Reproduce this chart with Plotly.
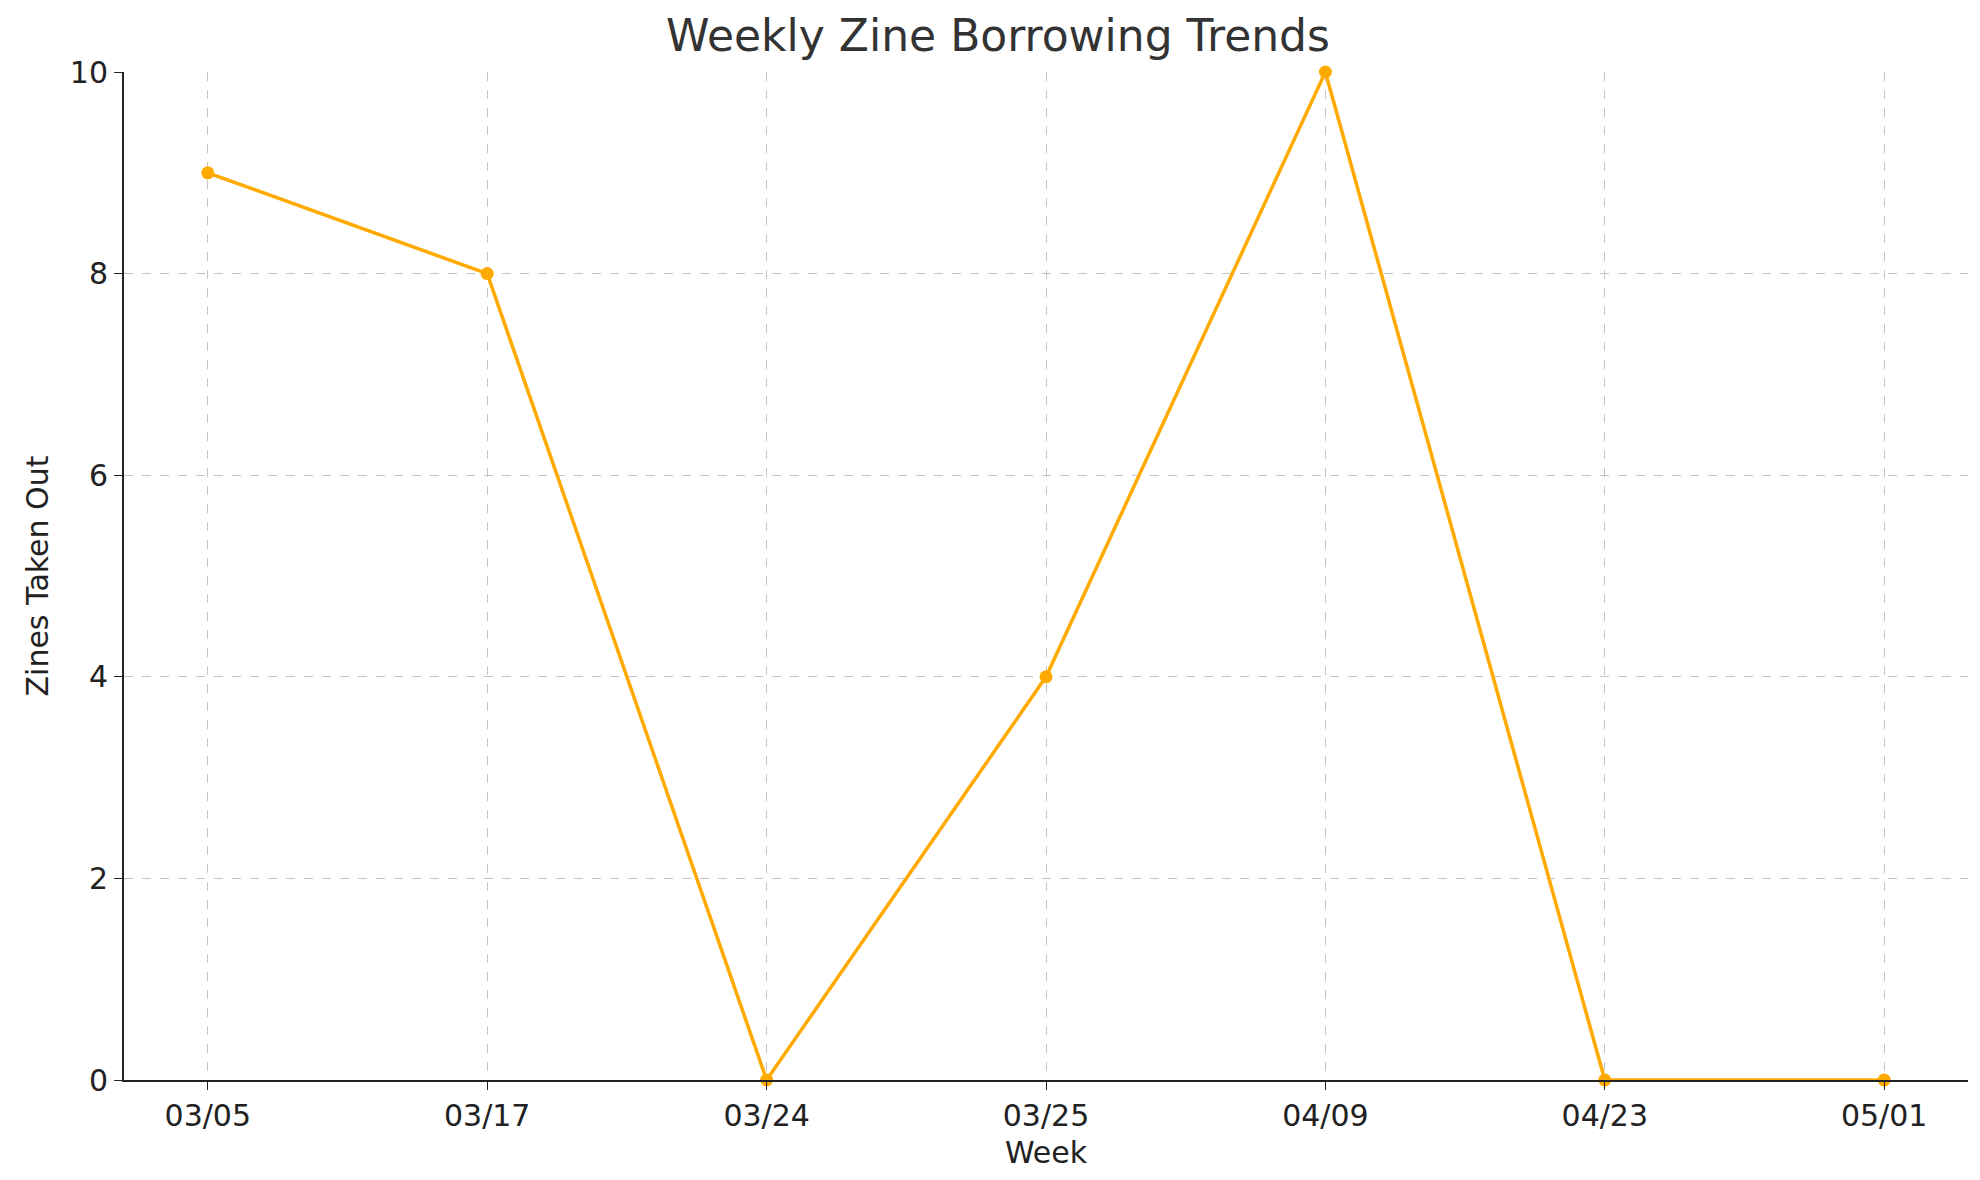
import plotly.graph_objects as go

weeks = ["03/05", "03/17", "03/24", "03/25", "04/09", "04/23", "05/01"]
zines_taken = [9, 8, 0, 4, 10, 0, 0]

fig = go.Figure()
fig.add_trace(
    go.Scatter(
        x=list(range(len(weeks))),
        y=zines_taken,
        mode="lines+markers",
        line=dict(color="#FFAA00", width=3.5),
        marker=dict(size=13, color="#FFAA00"),
        cliponaxis=False,
    )
)

axis_font = dict(family="DejaVu Sans", size=30, color="#222")
grid = dict(showgrid=True, gridcolor="#c4c4c4", griddash="dash", gridwidth=1)

fig.update_layout(
    width=1980,
    height=1180,
    plot_bgcolor="white",
    paper_bgcolor="white",
    margin=dict(l=116, r=20, t=64, b=108),
    showlegend=False,
    title=dict(
        text="Weekly Zine Borrowing Trends",
        x=0.5, xanchor="center", y=0.99, yanchor="top",
        font=dict(family="DejaVu Sans", size=44, color="#333"),
    ),
    xaxis=dict(
        tickmode="array",
        tickvals=list(range(len(weeks))),
        ticktext=weeks,
        range=[-0.3, 6.3],
        title=dict(text="Week", font=axis_font, standoff=10),
        tickfont=axis_font,
        ticks="outside", ticklen=8, tickcolor="#222",
        showline=True, linecolor="#222", linewidth=2,
        zeroline=False,
        **grid,
    ),
    yaxis=dict(
        range=[0, 10],
        dtick=2,
        title=dict(text="Zines Taken Out", font=axis_font, standoff=12),
        tickfont=axis_font,
        ticks="outside", ticklen=8, tickcolor="#222",
        showline=True, linecolor="#222", linewidth=2,
        zeroline=False,
        **grid,
    ),
)

fig.write_html("out.html")
